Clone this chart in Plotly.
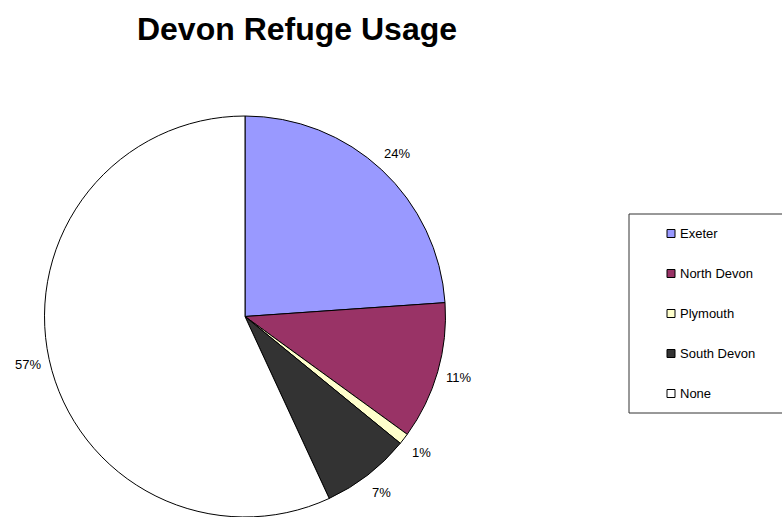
import math
import plotly.graph_objects as go

# Data
labels = ["Exeter", "North Devon", "Plymouth", "South Devon", "None"]
values = [23.9, 11.1, 0.9, 7.2, 56.9]
colors = ["#9999FF", "#993366", "#FFFFCC", "#333333", "#FFFFFF"]
title_text = "Devon Refuge Usage"

W, H = 782, 517
MT, MB, ML, MR = 116, 0, 0, 0
PW, PH = W - ML - MR, H - MT - MB

def px(x):
    return (x - ML) / PW

def py(y):
    return 1 - (y - MT) / PH

FONT = "Liberation Sans, Arial, sans-serif"

# pie placement (pixels)
PIE_L, PIE_R = 44.5, 445.5
CX = (PIE_L + PIE_R) / 2
CY = MT + PH / 2
R = min(PIE_R - PIE_L, PH) / 2
LABEL_R = 1.11 * R

fig = go.Figure()
fig.add_trace(go.Pie(
    labels=labels,
    values=values,
    sort=False,
    direction="clockwise",
    rotation=0,
    marker=dict(colors=colors, line=dict(color="#000000", width=1)),
    textinfo="none",
    domain=dict(x=[px(PIE_L), px(PIE_R)], y=[0, 1]),
    showlegend=False,
    hoverinfo="label+percent",
))

shapes = []
annotations = []

# percentage labels outside slices, at each slice's mid-angle
total = sum(values)
cum = 0.0
for v in values:
    mid = (cum + v / 2) / total * 2 * math.pi
    cum += v
    lx = CX + LABEL_R * math.sin(mid)
    ly = CY - LABEL_R * math.cos(mid)
    annotations.append(dict(text=f"{round(100 * v / total)}%", xref="paper", yref="paper",
                            x=px(lx), y=py(ly), xanchor="center", yanchor="middle",
                            showarrow=False,
                            font=dict(family=FONT, size=13, color="#000000")))

# legend box
shapes.append(dict(type="rect", xref="paper", yref="paper",
                   x0=px(629), x1=px(800), y0=py(413), y1=py(214),
                   line=dict(color="#333333", width=1), fillcolor="rgba(0,0,0,0)"))
for i, (lab, col) in enumerate(zip(labels, colors)):
    yc = 233.5 + 40 * i
    shapes.append(dict(type="rect", xref="paper", yref="paper",
                       x0=px(667), x1=px(675), y0=py(yc + 4), y1=py(yc - 4),
                       line=dict(color="#000000", width=1), fillcolor=col))
    annotations.append(dict(text=lab, xref="paper", yref="paper",
                            x=px(678), y=py(yc), xanchor="left", yanchor="middle",
                            showarrow=False,
                            font=dict(family=FONT, size=13, color="#000000")))

fig.update_layout(
    width=W, height=H,
    margin=dict(l=ML, r=MR, t=MT, b=MB),
    paper_bgcolor="#FFFFFF",
    plot_bgcolor="#FFFFFF",
    title=dict(text=title_text, xref="container", yref="container",
               x=297 / W, y=1 - 29 / H, xanchor="center", yanchor="middle",
               font=dict(family=FONT, size=32, color="#000000", weight="bold")),
    shapes=shapes,
    annotations=annotations,
    showlegend=False,
)

fig.write_html("out.html")
